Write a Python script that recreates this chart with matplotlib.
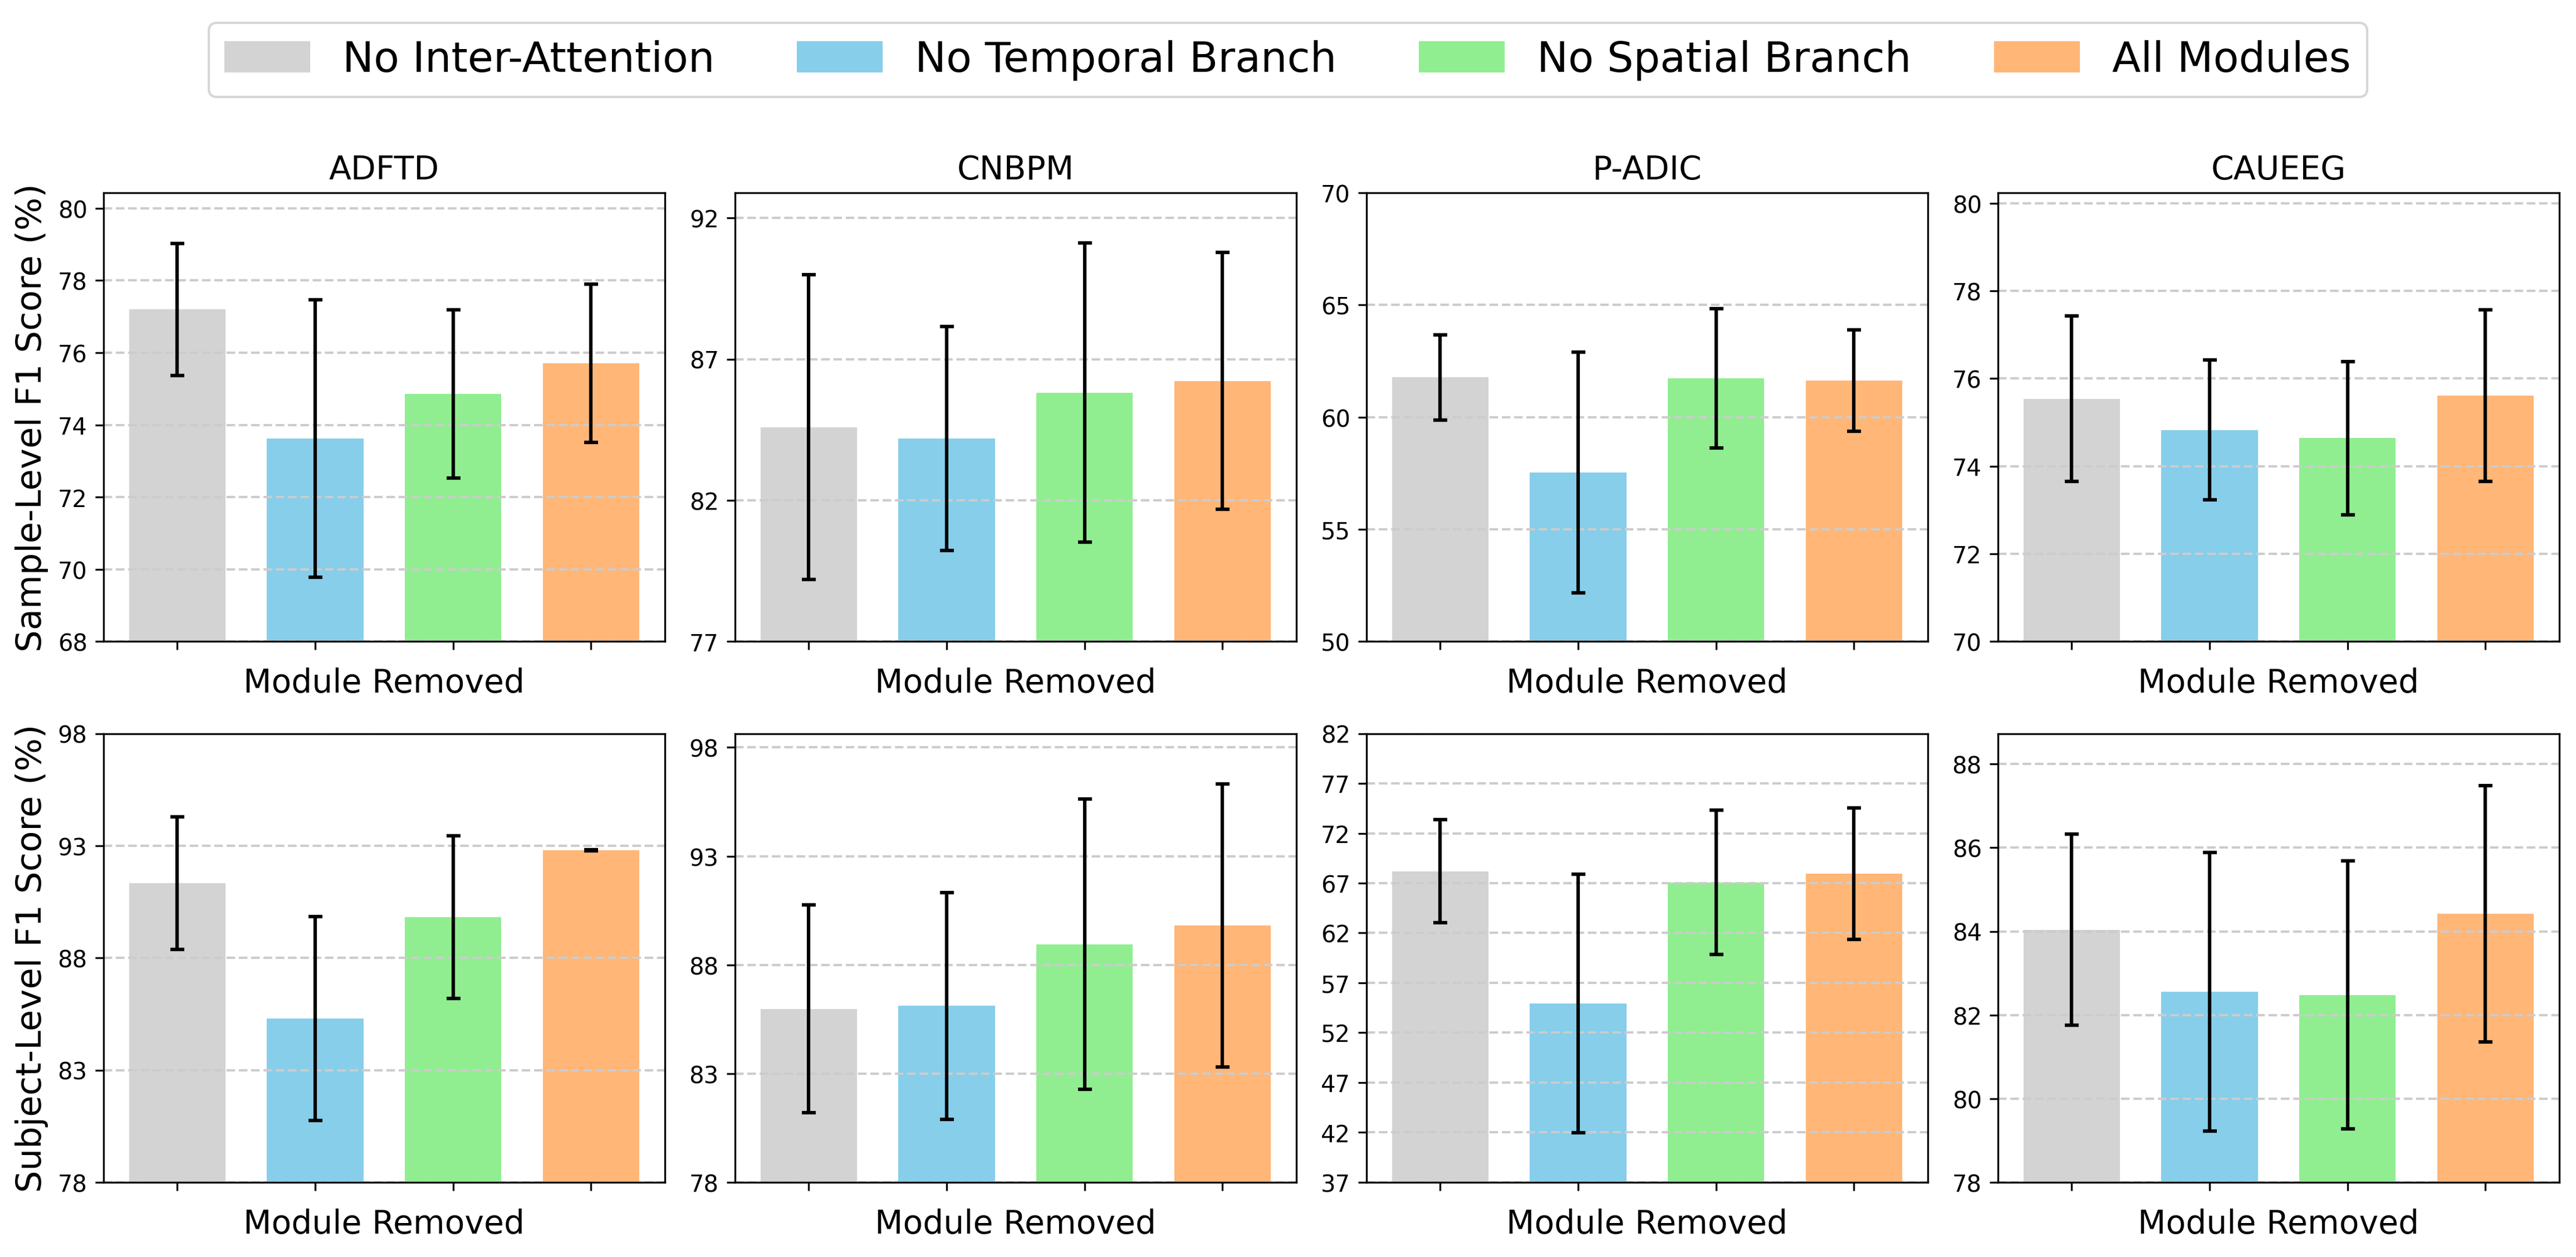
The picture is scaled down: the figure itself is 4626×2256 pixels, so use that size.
import numpy as np
import matplotlib
matplotlib.use('Agg')
import matplotlib.pyplot as plt

# module variants (legend) and datasets (columns)
modules = ['No Inter-Attention', 'No Temporal Branch', 'No Spatial Branch', 'All Modules']
datasets = ['ADFTD', 'CNBPM', 'P-ADIC', 'CAUEEG']
kleuren = ['#d3d3d3', '#87ceeb', '#90ee90', '#ffb677']

# sample-level F1 (mean, std) per dataset
sample_adftd = [77.20, 73.62, 74.86, 75.71]
sample_adftd_std = [1.83, 3.84, 2.33, 2.19]
sample_cnbpm = [84.59, 84.19, 85.81, 86.23]
sample_cnbpm_std = [5.39, 3.97, 5.30, 4.55]
sample_padic = [61.77, 57.54, 61.73, 61.63]
sample_padic_std = [1.90, 5.36, 3.10, 2.25]
sample_caueeg = [75.54, 74.83, 74.64, 75.61]
sample_caueeg_std = [1.89, 1.60, 1.75, 1.96]

# subject-level F1 (mean, std) per dataset
subject_adftd = [91.34, 85.30, 89.82, 92.80]
subject_adftd_std = [2.96, 4.55, 3.63, 0.03]
subject_cnbpm = [85.98, 86.11, 88.95, 89.81]
subject_cnbpm_std = [4.79, 5.22, 6.68, 6.50]
subject_padic = [68.20, 54.93, 67.08, 67.94]
subject_padic_std = [5.15, 12.96, 7.22, 6.58]
subject_caueeg = [84.04, 82.56, 82.48, 84.42]
subject_caueeg_std = [2.28, 3.33, 3.20, 3.06]

sample_rij = [(sample_adftd, sample_adftd_std), (sample_cnbpm, sample_cnbpm_std),
              (sample_padic, sample_padic_std), (sample_caueeg, sample_caueeg_std)]
subject_rij = [(subject_adftd, subject_adftd_std), (subject_cnbpm, subject_cnbpm_std),
               (subject_padic, subject_padic_std), (subject_caueeg, subject_caueeg_std)]

# y-as instellingen: (onder, boven, stap)
sample_ylim = [(68, 80.43, 2), (77, 92.89, 5), (50, 70, 5), (70, 80.24, 2)]
subject_ylim = [(78, 98, 5), (78, 98.64, 5), (37, 82, 5), (78, 88.73, 2)]

fig, axes = plt.subplots(2, 4, figsize=(15.42, 7.523), dpi=300)
xas = np.arange(len(modules))

for rij, (data_rij, lim_rij, ylabel) in enumerate([
        (sample_rij, sample_ylim, 'Sample-Level F1 Score (%)'),
        (subject_rij, subject_ylim, 'Subject-Level F1 Score (%)')]):
    for kol in range(4):
        ax = axes[rij, kol]
        gem, std = data_rij[kol]
        ax.bar(xas, gem, width=0.7, color=kleuren, yerr=std, capsize=3,
               error_kw=dict(elinewidth=1.5, capthick=1.5, ecolor='black'))
        onder, boven, stap = lim_rij[kol]
        ax.set_ylim(onder, boven)
        ax.set_yticks(np.arange(onder, boven + 0.01, stap))
        ax.tick_params(axis='y', labelsize=10)
        ax.set_xticks(xas)
        ax.set_xticklabels([''] * len(modules))
        ax.set_xlabel('Module Removed', fontsize=14)
        ax.yaxis.grid(True, linestyle='--', color='#cccccc', linewidth=1)
        if rij == 0:
            ax.set_title(datasets[kol], fontsize=14)
        if kol == 0:
            ax.set_ylabel(ylabel, fontsize=15)

handles = [plt.Rectangle((0, 0), 1, 1, color=k) for k in kleuren]
fig.legend(handles, modules, loc='upper center', ncol=4, fontsize=18,
           bbox_to_anchor=(0.5, 0.998), columnspacing=2.0)

plt.subplots_adjust(left=0.0402, right=0.9935, top=0.8463, bottom=0.0594,
                    wspace=0.125, hspace=0.205)
plt.savefig('out.png', dpi=300)
